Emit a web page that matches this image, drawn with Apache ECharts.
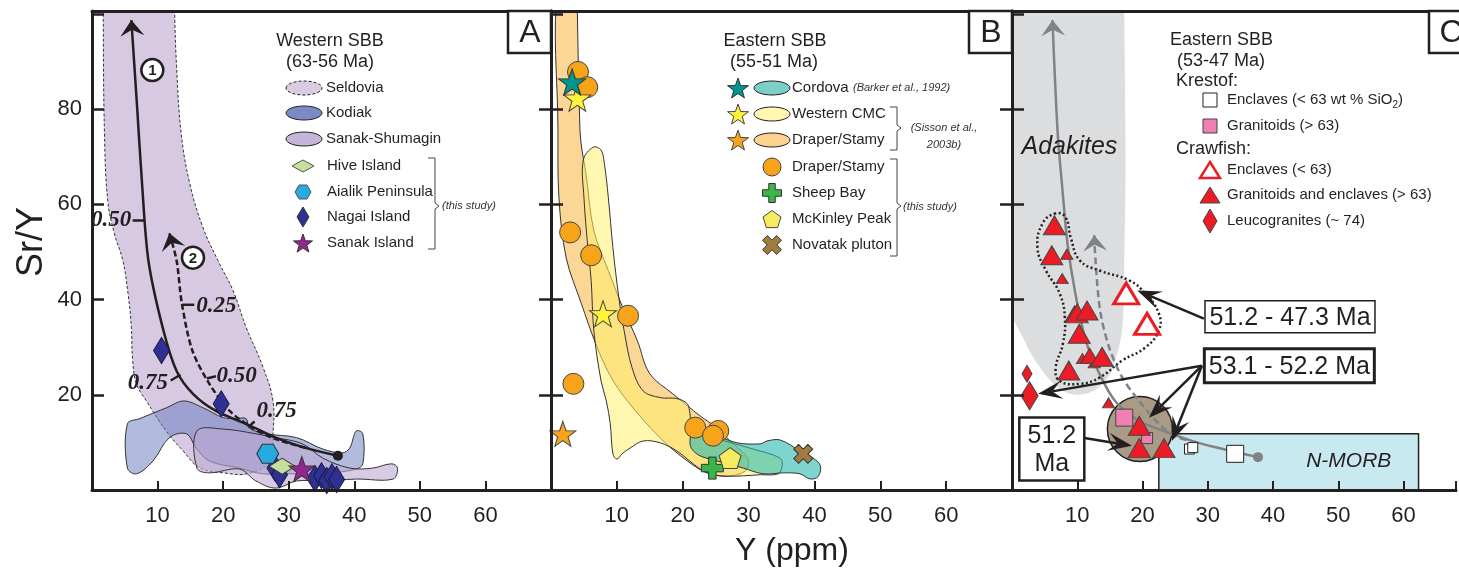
<!DOCTYPE html>
<html>
<head>
<meta charset="utf-8">
<script src="https://cdn.jsdelivr.net/npm/echarts/dist/echarts.min.js"></script>
<style>
  html, body { margin: 0; padding: 0; background: #fff; }
  #main { width: 1459px; height: 574px; }
</style>
</head>
<body>
<div id="main"></div>
<script>
var INK = '#231f20';
var FONT = 'Liberation Sans, Arial, sans-serif';

// ---------- panel A : Western SBB (63-56 Ma) ----------
var seldoviaField = [[1.7,106],[1.7,100.6],[1.9,74.9],[2.4,60.8],[3.4,53.9],[4.7,48.2],[5.5,41.2],[6.0,34.2],[6.2,27.2],[6.8,22.2],[8.3,18.7],[11.3,12.4],[13.9,8.2],[16.4,4.7],[20,3.6],[24,3.5],[27.1,6.1],[27.6,11.7],[27.6,18.7],[26.1,25.7],[23.5,34.2],[21.5,41.9],[19.2,48.2],[16.9,55.2],[14.9,64.4],[13.6,74.9],[12.9,88.9],[12.6,100.6],[12.6,106]];
var kodiakField = [[5.4,13.9],[5.4,4.6],[6.8,3.4],[9.3,6.1],[11.8,11],[14.4,11.8],[15.9,8.8],[17.9,6.1],[22.5,4.6],[26,3.4],[30.1,3.4],[35.2,3.4],[40.3,4.4],[41.3,5.5],[41.3,11.8],[40.3,12.4],[39.3,8.8],[38.2,7.8],[35.2,8.6],[31.2,11],[26.6,11.8],[24,13],[23.5,15],[22,15],[20,15.2],[16.9,17.3],[14,18.7],[11.4,17.3],[7.3,15]];
var sanakShumaginField = [[16,12.4],[16,4.6],[17.9,3.6],[22.5,4.4],[25,1.9],[28,0.4],[31.2,1.9],[35.2,1.9],[40.3,2.3],[45.9,2.3],[46.6,4.6],[45.7,5.5],[42.8,4.6],[39.3,4.6],[35.2,6.7],[32.1,9.7],[28,11],[25,11.8],[20,12.8]];
var meltCurve1 = [[6.0,98.7],[6.9,80],[7.6,65],[8.6,48.2],[10.8,34],[12.9,25],[15.4,20.2],[18.9,16.6],[23.5,13.9],[28,11],[32.7,8.8],[37.5,7.2]];
var meltCurve2 = [[11.8,53.9],[12.9,48.2],[13.7,39.2],[15.3,29.3],[17.9,22.3],[21,16.6],[24.5,13],[28,10.7],[32.7,8.8]];
var nagaiIsland = [[10.6,29.3],[19.7,18.1],[27.9,4.6],[28.6,3.2],[34.0,2.4],[35.0,3.0],[35.8,2.0],[36.6,2.8],[37.3,2.2]];
var aialikPeninsula = [[26.8,7.6]];
var hiveIsland = [[29,5]];
var sanakIsland = [[32,4.4]];
var curveNumbers = [[9.2,88.2],[15.4,48.8]];
var curveNumberText = ['1', '2'];
// label x, y, text, align, tick x1, y1, x2, y2
var fractionLabels = [
  [6.0,56.6,'0.50','right',6.2,56.6,8.0,56.6],
  [15.9,38.7,'0.25','left',13.8,38.9,15.6,38.9],
  [11.6,22.5,'0.75','right',12.0,23.0,13.5,24.2],
  [19.0,24.0,'0.50','left',17.5,23.4,18.9,23.9],
  [25.1,16.6,'0.75','left',23.8,13.2,24.8,14.4]
];

// ---------- panel B : Eastern SBB (55-51 Ma) ----------
var draperStamyField = [[1.06,106],[1.06,75.6],[1.2,61.5],[2.3,48.8],[4.6,39.2],[6.8,30.7],[9,24],[11.6,18.7],[16.6,10.9],[20.7,6.1],[23.7,3.6],[26.7,2.9],[29.5,4],[29.9,6.5],[27.2,10.3],[25.2,13],[22.6,15.6],[20.7,17.7],[18.5,20.2],[15,24.4],[13.1,31.4],[10.9,38.3],[8.7,46.1],[6.5,54.5],[5.3,66.5],[4.7,71.4],[4.4,75.6],[4,100.6],[4,106]];
var westernCmcField = [[6.4,72],[4.9,69.3],[5,61.5],[5.6,50.9],[6.1,44],[6.5,33.5],[7.6,22.9],[8.4,18.7],[9,13.9],[9.4,7.6],[10,6.5],[10.8,7.6],[12,8.8],[14,10.3],[16.6,9.9],[19.1,8.2],[21.6,5.5],[23.7,3.6],[26.7,2.9],[31.8,3.2],[34.5,3.4],[35.1,5],[34.8,6.7],[30.2,8.8],[25.2,10.9],[21.4,13.9],[21.1,16],[20.7,18.1],[19.1,19.2],[16.6,19.4],[14,20.8],[12.3,25.7],[11.1,33.5],[10.3,40.4],[9.4,50.9],[8.7,61.5],[8.1,68.6],[7.6,71.4]];
var cordovaField = [[21.1,10.3],[21.6,12.4],[23.1,12.4],[25.2,11.4],[28.3,9.9],[31.8,9.7],[32.8,10.3],[34.8,10.5],[37.8,8.2],[39.8,6.7],[40.9,5.1],[40.6,2.9],[39.4,2.3],[37.8,3.4],[35.3,3.6],[32.2,3.4],[29.2,4.6],[25.2,6.1],[22.6,7.2],[21.4,8.6]];
var draperStamyThisStudy = [[4.1,87.8],[5.5,84.6],[2.9,54.1],[6.1,49.3],[11.7,36.6],[3.4,22.3],[21.9,13.1],[25.4,12.4],[24.6,11.4]];
var cordovaStars = [[3.2,85.7]];
var westernCmcStars = [[4.0,82.3],[7.9,37.0]];
var draperStamySisson = [[1.8,11.8]];
var sheepBay = [[24.5,4.6]];
var mckinleyPeak = [[27.2,6.7]];
var novatakPluton = [[38.3,7.6]];

// ---------- panel C : Eastern SBB (53-47 Ma) ----------
var adakiteField = [[0,106],[0,37.7],[1.7,32],[4.3,25.7],[7.8,20.8],[11.3,20.2],[14.3,22.9],[15.8,27.2],[16.9,34.1],[17.2,48.2],[17.4,69.3],[17.2,100.6],[17.2,106]];
var crawfishOutline = [[6.7,58.1],[4.7,56],[3.9,50.9],[5.2,46.1],[7.3,41.3],[8.1,36.2],[7.8,30.7],[6.7,25.7],[7.3,22.9],[10.4,22.3],[13.4,23.6],[16.9,27.2],[20.4,29.9],[22.5,33.5],[22.5,37.1],[20.4,41.3],[18,44],[13.4,46.1],[10.4,48.2],[9,53],[8.2,57.3]];
var nmorbBox = [[22.5,0],[22.5,11.8],[62.3,11.8],[62.3,0]];
var meltCurveC1 = [[6.2,98.7],[7.0,75],[7.8,62],[8.5,51.8],[9.7,41.3],[11.3,31.4],[13.4,24.4],[15.8,18.7],[19.5,14.5],[24.5,11.8],[28.6,9.9],[33.6,8.2],[37.7,6.9]];
var meltCurveC2 = [[12.6,53.5],[12.8,48.2],[13.5,37.7],[14.9,29.9],[16.9,23.6],[19.5,18.7],[22.5,13.9],[25,11.3],[28.6,9.9]];
var earlyGroup = [[19.6,12.8]];
var krestofEnclavesBig = [[34.2,7.6]];
var krestofEnclavesSmall = [[27.2,8.6],[27.7,8.9]];
var krestofGranitoidsBig = [[17.2,15.2]];
var krestofGranitoidsSmall = [[20.7,10.9]];
var crawfishEnclaves = [[17.5,41.3],[20.7,34.9]];
var crawfishGranitoidsBig = [[6.5,55.6],[6.1,49.3],[10.0,37.1],[11.5,37.7],[10.3,32.8],[13.8,28.0],[8.7,25.1],[19.5,13.5],[19.5,8.8],[23.3,8.8]];
var crawfishGranitoidsMid = [[9.6,37.1],[11.9,28.2]];
var crawfishGranitoidsSmall = [[8.4,49.5],[7.7,44.4],[10.8,27.6],[12.6,26.7],[14.8,18.3]];
var leucogranitesBig = [[2.7,19.8]];
var leucogranitesSmall = [[2.3,24.4]];
var ageArrows = [[29.4,36.0,19.2,41.9],[29.1,26.1,4.0,20.2],[29.1,26.1,21.0,15.2],[29.1,26.1,24.5,10.3],[11.1,10.9,18.4,9.3]];
var ageLabelPos = [[42.6,36.4],[42.5,26.1],[6.1,8.6]];
var ageLabelText = ['51.2 - 47.3 Ma', '53.1 - 52.2 Ma', '51.2\nMa'];
var fieldNamePos = [[8.8,72],[51.6,6.1]];
var fieldNameText = ['Adakites', 'N-MORB'];

var xTicks = [10, 20, 30, 40, 50, 60];
var yTicks = [20, 40, 60, 80];
// panel C is cut at the right edge of the picture
var xMax = [70, 70, 68.04];

// ---------- helpers ----------
function arrowHead(from, tip, L, W) {
  var dx = tip[0] - from[0], dy = tip[1] - from[1];
  var n = Math.sqrt(dx * dx + dy * dy) || 1;
  dx /= n; dy /= n;
  var bx = tip[0] - dx * L, by = tip[1] - dy * L;
  var nx = tip[0] - dx * L * 0.6, ny = tip[1] - dy * L * 0.6;
  return [tip, [bx - dy * W, by + dx * W], [nx, ny], [bx + dy * W, by - dx * W]];
}

function fieldSeries(gi, pts, style, smooth, z) {
  return {
    type: 'custom', coordinateSystem: 'cartesian2d', xAxisIndex: gi, yAxisIndex: gi,
    z: z || 1, silent: true, clip: true, data: [pts[0]],
    renderItem: function (params, api) {
      var p = pts.map(function (d) { return api.coord(d); });
      return { type: 'polygon', shape: { points: p, smooth: smooth }, style: style };
    }
  };
}

function curveSeries(gi, pts, color, lw, dash, head, endDot) {
  return {
    type: 'custom', coordinateSystem: 'cartesian2d', xAxisIndex: gi, yAxisIndex: gi,
    z: 3, silent: true, clip: true, data: [pts[0]],
    renderItem: function (params, api) {
      var p = pts.map(function (d) { return api.coord(d); });
      var ch = [{ type: 'polyline', shape: { points: p, smooth: 0.3 },
        style: { stroke: color, lineWidth: lw, lineDash: dash, fill: null } }];
      if (head) ch.push({ type: 'polygon', shape: { points: arrowHead(p[1], p[0], 16, 12) }, style: { fill: color } });
      if (endDot) {
        var e = p[p.length - 1];
        ch.push({ type: 'circle', shape: { cx: e[0], cy: e[1], r: 5 }, style: { fill: color } });
      }
      return { type: 'group', children: ch };
    }
  };
}

function scatter(gi, data, symbol, size, fill, stroke, lw, z, rot) {
  return {
    type: 'scatter', xAxisIndex: gi, yAxisIndex: gi, data: data, symbol: symbol,
    symbolSize: size, symbolRotate: rot || 0, z: z || 5, silent: true,
    itemStyle: { color: fill, borderColor: stroke, borderWidth: lw, opacity: 1 }
  };
}

function starPath() {
  var s = 'path://';
  for (var i = 0; i < 10; i++) {
    var r = i % 2 ? 20 : 50, a = -Math.PI / 2 + i * Math.PI / 5;
    s += (i ? 'L' : 'M') + (50 + r * Math.cos(a)).toFixed(1) + ',' + (50 + r * Math.sin(a)).toFixed(1);
  }
  return s + 'Z';
}
var STAR = starPath();
var HEX = 'path://M0,50L25,7L75,7L100,50L75,93L25,93Z';
var PENT = 'path://M50,0L97.6,34.5L79.4,90.5L20.6,90.5L2.4,34.5Z';
var PLUS = 'path://M33,0H67V33H100V67H67V100H33V67H0V33H33Z';

// legend shapes (pixels)
function shapePts(kind, cx, cy, w, h) {
  var out = [], i, a, r;
  if (kind === 'diamond') return [[cx, cy - h / 2], [cx + w / 2, cy], [cx, cy + h / 2], [cx - w / 2, cy]];
  if (kind === 'hex') return [[cx - w / 2, cy], [cx - w / 4, cy - h / 2], [cx + w / 4, cy - h / 2], [cx + w / 2, cy], [cx + w / 4, cy + h / 2], [cx - w / 4, cy + h / 2]];
  if (kind === 'tri') return [[cx, cy - h / 2], [cx + w / 2, cy + h / 2], [cx - w / 2, cy + h / 2]];
  if (kind === 'star') {
    for (i = 0; i < 10; i++) {
      r = (i % 2 ? 0.4 : 1) * w / 2; a = -Math.PI / 2 + i * Math.PI / 5;
      out.push([cx + r * Math.cos(a), cy + r * Math.sin(a) + w * 0.05]);
    }
    return out;
  }
  if (kind === 'pent') {
    for (i = 0; i < 5; i++) { a = -Math.PI / 2 + i * 2 * Math.PI / 5; out.push([cx + w / 2 * Math.cos(a), cy + w / 2 * Math.sin(a) + w * 0.05]); }
    return out;
  }
  if (kind === 'plus' || kind === 'x') {
    var t = w * 0.17, q = w / 2;
    var base = [[-t,-q],[t,-q],[t,-t],[q,-t],[q,t],[t,t],[t,q],[-t,q],[-t,t],[-q,t],[-q,-t],[-t,-t]];
    var ang = kind === 'x' ? Math.PI / 4 : 0;
    return base.map(function (d) {
      return [cx + d[0] * Math.cos(ang) - d[1] * Math.sin(ang), cy + d[0] * Math.sin(ang) + d[1] * Math.cos(ang)];
    });
  }
  return out;
}
function gPoly(kind, cx, cy, w, h, fill, stroke, lw) {
  return { type: 'polygon', z: 100, shape: { points: shapePts(kind, cx, cy, w, h) },
    style: { fill: fill, stroke: stroke || INK, lineWidth: lw || 1 } };
}
function T(x, y, s, size, extra) {
  var st = { text: s, fontSize: size, fontFamily: FONT, fill: INK,
    align: 'left', textAlign: 'left', verticalAlign: 'middle', textVerticalAlign: 'middle' };
  for (var k in extra) st[k] = extra[k];
  return { type: 'text', x: x, y: y, z: 100, style: st };
}
var CEN = { align: 'center', textAlign: 'center' };
var ITAL = { fontStyle: 'italic', fill: '#333' };
var ITALC = { fontStyle: 'italic', fill: '#333', align: 'center', textAlign: 'center' };
function ell(cx, cy, fill, dash) {
  return { type: 'ellipse', z: 100, shape: { cx: cx, cy: cy, rx: 18, ry: 7 },
    style: { fill: fill, stroke: INK, lineWidth: 1, lineDash: dash || null } };
}
function bracket(x, y1, ym, y2) {
  return { type: 'polyline', z: 100, shape: { points: [[x, y1], [x + 7, y1], [x + 7, ym - 3], [x + 11, ym], [x + 7, ym + 3], [x + 7, y2], [x, y2]] },
    style: { stroke: '#444', lineWidth: 1, fill: null } };
}
function cornerBox(x, w, letter) {
  return [
    { type: 'rect', z: 100, shape: { x: x, y: 11, width: w, height: 42 }, style: { fill: '#fff', stroke: INK, lineWidth: 2.5 } },
    T(x + 22, 33, letter, 32, CEN)
  ];
}

// ---------- axes ----------
var grids = [
  { left: 92, top: 11, width: 459, height: 479 },
  { left: 551, top: 11, width: 461, height: 479 },
  { left: 1012, top: 11, width: 447, height: 479 }
];
var xAxes = [], yAxes = [];
[0, 1, 2].forEach(function (gi) {
  xAxes.push({
    type: 'value', gridIndex: gi, min: 0, max: xMax[gi], interval: 10, z: 10, position: 'bottom',
    axisLine: { show: true, onZero: false, lineStyle: { color: INK, width: 3 } },
    axisTick: { show: true, inside: true, length: 9, lineStyle: { color: INK, width: 2 } },
    axisLabel: { fontSize: 22, fontFamily: FONT, color: INK, margin: 15,
      formatter: function (v) { return xTicks.indexOf(v) >= 0 ? String(v) : ''; } },
    splitLine: { show: false }
  });
});
[0, 1, 2].forEach(function (gi) {
  xAxes.push({
    type: 'value', gridIndex: gi, min: 0, max: xMax[gi], interval: 10, z: 10, position: 'top',
    axisLine: { show: true, onZero: false, lineStyle: { color: INK, width: 3 } },
    axisTick: { show: false }, axisLabel: { show: false }, splitLine: { show: false }
  });
});
[0, 1, 2].forEach(function (gi) {
  yAxes.push({
    type: 'value', gridIndex: gi, min: 0, max: 100.6, interval: 20, z: 10, position: 'left',
    axisLine: { show: true, onZero: false, lineStyle: { color: INK, width: 3 } },
    axisTick: { show: true, inside: true, length: 12, lineStyle: { color: INK, width: 2.5 } },
    axisLabel: { show: gi === 0, fontSize: 22, fontFamily: FONT, color: INK, margin: 10,
      formatter: function (v) { return yTicks.indexOf(v) >= 0 ? String(v) : ''; } },
    splitLine: { show: false }
  });
});
[0, 1].forEach(function (gi) {
  yAxes.push({
    type: 'value', gridIndex: gi, min: 0, max: 100.6, interval: 20, z: 10, position: 'right',
    axisLine: { show: true, onZero: false, lineStyle: { color: INK, width: 3 } },
    axisTick: { show: true, inside: true, length: 12, lineStyle: { color: INK, width: 2.5 } },
    axisLabel: { show: false }, splitLine: { show: false }
  });
});

// ---------- series ----------
var series = [];
// panel A
series.push(fieldSeries(0, seldoviaField, { fill: 'rgba(200,180,215,0.72)', stroke: '#333', lineWidth: 1, lineDash: [3, 2] }, 0.4, 1));
series.push(fieldSeries(0, kodiakField, { fill: 'rgba(100,120,190,0.5)', stroke: '#333', lineWidth: 1 }, 0.35, 1));
series.push(fieldSeries(0, sanakShumaginField, { fill: 'rgba(190,170,210,0.6)', stroke: '#333', lineWidth: 1 }, 0.35, 1));
series.push(curveSeries(0, meltCurve1, INK, 2.5, null, true, true));
series.push(curveSeries(0, meltCurve2, INK, 2.5, [6, 3], true, false));
series.push({
  type: 'custom', coordinateSystem: 'cartesian2d', xAxisIndex: 0, yAxisIndex: 0, z: 4, silent: true,
  data: fractionLabels.map(function (d) { return [d[0], d[1]]; }),
  renderItem: function (params, api) {
    var d = fractionLabels[params.dataIndex];
    var p = api.coord([d[0], d[1]]), a = api.coord([d[4], d[5]]), b = api.coord([d[6], d[7]]);
    return { type: 'group', children: [
      { type: 'line', shape: { x1: a[0], y1: a[1], x2: b[0], y2: b[1] }, style: { stroke: INK, lineWidth: 2.5 } },
      { type: 'text', x: p[0], y: p[1], style: { text: d[2], align: d[3], textAlign: d[3], verticalAlign: 'middle', textVerticalAlign: 'middle',
        fontSize: 23, fontFamily: 'Liberation Serif, serif', fontStyle: 'italic', fontWeight: 'bold', fill: INK } }
    ] };
  }
});
series.push({
  type: 'custom', coordinateSystem: 'cartesian2d', xAxisIndex: 0, yAxisIndex: 0, z: 4, silent: true,
  data: curveNumbers,
  renderItem: function (params, api) {
    var p = api.coord([api.value(0), api.value(1)]);
    return { type: 'group', children: [
      { type: 'circle', shape: { cx: p[0], cy: p[1], r: 11 }, style: { fill: '#fff', stroke: INK, lineWidth: 2.5 } },
      { type: 'text', x: p[0], y: p[1] + 1, style: { text: curveNumberText[params.dataIndex], align: 'center', textAlign: 'center',
        verticalAlign: 'middle', textVerticalAlign: 'middle', fontSize: 15, fontWeight: 'bold', fontFamily: FONT, fill: INK } }
    ] };
  }
});
series.push(scatter(0, nagaiIsland, 'diamond', [16, 26], '#2e3192', '#1a1a40', 1, 5));
series.push(scatter(0, aialikPeninsula, HEX, [22, 19], '#27aae1', '#333', 1, 6));
series.push(scatter(0, hiveIsland, 'diamond', [26, 16], '#c5e09b', '#333', 1, 6));
series.push(scatter(0, sanakIsland, STAR, [26, 25], '#92278f', '#333', 1, 7));

// panel B
series.push(fieldSeries(1, draperStamyField, { fill: 'rgba(248,180,60,0.55)', stroke: '#333', lineWidth: 1 }, 0.35, 1));
series.push(fieldSeries(1, westernCmcField, { fill: 'rgba(255,240,110,0.55)', stroke: '#333', lineWidth: 1 }, 0.35, 1));
series.push(fieldSeries(1, cordovaField, { fill: 'rgba(40,185,175,0.6)', stroke: '#333', lineWidth: 1 }, 0.35, 1));
series.push(scatter(1, draperStamyThisStudy, 'circle', 21, '#f8a41b', '#444', 1, 5));
series.push(scatter(1, westernCmcStars, STAR, [27, 26], '#fff33b', '#444', 1, 6));
series.push(scatter(1, cordovaStars, STAR, [27, 26], '#00968f', '#333', 1, 6));
series.push(scatter(1, draperStamySisson, STAR, [26, 25], '#f7a31c', '#444', 1, 6));
series.push(scatter(1, sheepBay, PLUS, 22, '#39b54a', '#333', 1, 6));
series.push(scatter(1, mckinleyPeak, PENT, [22, 21], '#f6eb5f', '#444', 1, 6));
series.push(scatter(1, novatakPluton, PLUS, 20, '#a07c3f', '#333', 1, 6, 45));

// panel C
series.push(fieldSeries(2, adakiteField, { fill: '#dcdddf', stroke: null }, 0.35, 1));
series.push(fieldSeries(2, nmorbBox, { fill: '#c9e9f0', stroke: INK, lineWidth: 1.5 }, 0, 1));
series.push(scatter(2, earlyGroup, 'circle', 65, '#a99b85', INK, 1.5, 2));
series.push(curveSeries(2, meltCurveC1, '#808285', 2.5, null, true, true));
series.push(curveSeries(2, meltCurveC2, '#808285', 2.5, [7, 4], true, false));
series.push(fieldSeries(2, crawfishOutline, { fill: null, stroke: INK, lineWidth: 2.5, lineDash: [2, 2.5] }, 0.45, 4));
series.push(scatter(2, krestofEnclavesBig, 'rect', 17, '#fff', INK, 1, 5));
series.push(scatter(2, krestofEnclavesSmall, 'rect', 10, '#fff', INK, 1, 5));
series.push(scatter(2, krestofGranitoidsBig, 'rect', 17, '#f07fb4', '#444', 1, 5));
series.push(scatter(2, krestofGranitoidsSmall, 'rect', 11, '#f07fb4', '#444', 1, 5));
series.push(scatter(2, crawfishEnclaves, 'triangle', [25, 21], '#fff', '#ed1c24', 3, 5));
series.push(scatter(2, crawfishGranitoidsSmall, 'triangle', [12, 10], '#ed1c24', '#444', 1, 5));
series.push(scatter(2, crawfishGranitoidsMid, 'triangle', [18, 15], '#ed1c24', '#444', 1, 5));
series.push(scatter(2, crawfishGranitoidsBig, 'triangle', [22, 19], '#ed1c24', '#444', 1, 5));
series.push(scatter(2, leucogranitesSmall, 'diamond', [10, 17], '#ed1c24', '#444', 1, 5));
series.push(scatter(2, leucogranitesBig, 'diamond', [17, 28], '#ed1c24', '#444', 1, 5));
series.push({
  type: 'custom', coordinateSystem: 'cartesian2d', xAxisIndex: 2, yAxisIndex: 2, z: 8, silent: true,
  data: ageArrows,
  renderItem: function (params, api) {
    var a = api.coord([api.value(0), api.value(1)]), b = api.coord([api.value(2), api.value(3)]);
    var h = arrowHead(a, b, 24, 9);
    return { type: 'group', children: [
      { type: 'line', shape: { x1: a[0], y1: a[1], x2: h[2][0], y2: h[2][1] }, style: { stroke: INK, lineWidth: 2.5 } },
      { type: 'polygon', shape: { points: h }, style: { fill: INK } }
    ] };
  }
});
var ageBoxSize = [[170, 32, 1.5], [170, 34, 3], [65, 63, 2.5]];
series.push({
  type: 'custom', coordinateSystem: 'cartesian2d', xAxisIndex: 2, yAxisIndex: 2, z: 9, silent: true,
  data: ageLabelPos,
  renderItem: function (params, api) {
    var i = params.dataIndex, c = api.coord(ageLabelPos[i]), s = ageBoxSize[i];
    return { type: 'group', children: [
      { type: 'rect', shape: { x: c[0] - s[0] / 2, y: c[1] - s[1] / 2, width: s[0], height: s[1] },
        style: { fill: '#fff', stroke: INK, lineWidth: s[2] } },
      { type: 'text', x: c[0], y: c[1] + 1, style: { text: ageLabelText[i], align: 'center', textAlign: 'center',
        verticalAlign: 'middle', textVerticalAlign: 'middle', fontSize: 25, lineHeight: 28, fontFamily: FONT, fill: INK } }
    ] };
  }
});
var fieldNameSize = [25, 21];
series.push({
  type: 'custom', coordinateSystem: 'cartesian2d', xAxisIndex: 2, yAxisIndex: 2, z: 9, silent: true,
  data: fieldNamePos,
  renderItem: function (params, api) {
    var i = params.dataIndex, c = api.coord(fieldNamePos[i]);
    return { type: 'text', x: c[0], y: c[1], style: { text: fieldNameText[i], align: 'center', textAlign: 'center',
      verticalAlign: 'middle', textVerticalAlign: 'middle', fontSize: fieldNameSize[i], fontStyle: 'italic', fontFamily: FONT, fill: INK } };
  }
});

// ---------- legends and labels (pixels) ----------
var graphics = [
  T(32, 242, 'Sr/Y', 36, { align: 'center', textAlign: 'center' }),
  T(792, 551, 'Y (ppm)', 32, CEN),
  // panel A legend
  T(330, 41, 'Western SBB', 18, CEN), T(330, 62, '(63-56 Ma)', 18, CEN),
  ell(304, 88, '#d9cbe2', [3, 2]), T(326, 88, 'Seldovia', 15),
  ell(304, 113, '#7b8ac5'), T(326, 113, 'Kodiak', 15),
  ell(304, 139, '#c6b5d9'), T(326, 139, 'Sanak-Shumagin', 15),
  gPoly('diamond', 303, 166, 22, 12, '#c5e09b', '#555'), T(327, 166, 'Hive Island', 15),
  gPoly('hex', 303, 192, 16, 14, '#27aae1', '#555'), T(327, 192, 'Aialik Peninsula', 15),
  gPoly('diamond', 303, 217, 12, 20, '#2e3192', '#333'), T(327, 217, 'Nagai Island', 15),
  gPoly('star', 303, 243, 20, 20, '#92278f', '#333'), T(327, 243, 'Sanak Island', 15),
  bracket(428, 158, 206, 249), T(442, 206, '(this study)', 11, ITAL),
  // panel B legend
  T(775, 41, 'Eastern SBB', 18, CEN), T(774, 62, '(55-51 Ma)', 18, CEN),
  gPoly('star', 738, 88, 22, 22, '#00968f', '#333'), ell(772, 88, '#7dd0c9'), T(792, 88, 'Cordova', 15), T(853, 88, '(Barker et al., 1992)', 11, ITAL),
  gPoly('star', 738, 114, 22, 22, '#fff33b', '#444'), ell(772, 114, '#fff7b2'), T(792, 114, 'Western CMC', 15),
  gPoly('star', 738, 140, 22, 22, '#f7a31c', '#444'), ell(772, 140, '#fbd38f'), T(792, 140, 'Draper/Stamy', 15),
  bracket(890, 107, 128, 150), T(944, 128, '(Sisson et al.,', 11, ITALC), T(944, 145, '2003b)', 11, ITALC),
  { type: 'circle', z: 100, shape: { cx: 772, cy: 167, r: 9 }, style: { fill: '#f8a41b', stroke: '#444', lineWidth: 1 } }, T(792, 167, 'Draper/Stamy', 15),
  gPoly('plus', 772, 193, 19, 19, '#39b54a', '#333'), T(792, 193, 'Sheep Bay', 15),
  gPoly('pent', 772, 219, 19, 19, '#f6eb5f', '#444'), T(792, 219, 'McKinley Peak', 15),
  gPoly('x', 772, 245, 20, 20, '#a07c3f', '#333'), T(792, 245, 'Novatak pluton', 15),
  bracket(890, 159, 206, 256), T(903, 207, '(this study)', 11, ITAL),
  // panel C legend
  T(1170, 40, 'Eastern SBB', 18), T(1177, 61, '(53-47 Ma)', 18), T(1176, 81, 'Krestof:', 18),
  { type: 'rect', z: 100, shape: { x: 1203, y: 93, width: 14, height: 14 }, style: { fill: '#fff', stroke: INK, lineWidth: 1 } },
  T(1227, 100, '{a|Enclaves (< 63 wt % SiO}{b|2}{a|)}', 15, { rich: { a: { fontSize: 15, fontFamily: FONT, fill: INK, lineHeight: 20 }, b: { fontSize: 10, fontFamily: FONT, fill: INK, lineHeight: 20, verticalAlign: 'bottom', padding: [8, 0, 0, 0] } } }),
  { type: 'rect', z: 100, shape: { x: 1203, y: 119, width: 14, height: 14 }, style: { fill: '#f07fb4', stroke: '#444', lineWidth: 1 } }, T(1227, 126, 'Granitoids (> 63)', 15),
  T(1176, 149, 'Crawfish:', 18),
  gPoly('tri', 1210, 170, 20, 16, '#fff', '#ed1c24', 2.5), T(1227, 170, 'Enclaves (< 63)', 15),
  gPoly('tri', 1210, 195, 20, 16, '#ed1c24', '#444', 1), T(1227, 195, 'Granitoids and enclaves (> 63)', 15),
  gPoly('diamond', 1210, 221, 14, 24, '#ed1c24', '#444', 1), T(1227, 221, 'Leucogranites (~ 74)', 15)
];
graphics = graphics.concat(cornerBox(508, 43, 'A'), cornerBox(969, 43, 'B'), cornerBox(1429, 45, 'C'));
graphics[0].rotation = Math.PI / 2;

var chart = echarts.init(document.getElementById('main'));
var option = {
  animation: false,
  backgroundColor: '#fff',
  grid: grids,
  xAxis: xAxes,
  yAxis: yAxes,
  series: series,
  graphic: { elements: graphics }
};
chart.setOption(option);
</script>
</body>
</html>
